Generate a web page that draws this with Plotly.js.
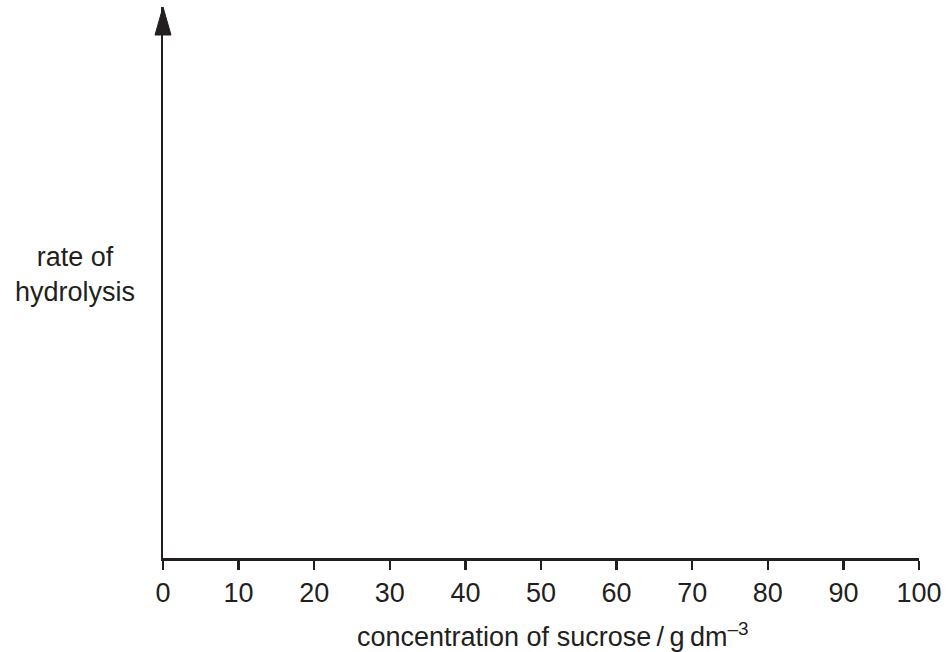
<!DOCTYPE html>
<html>
<head>
<meta charset="utf-8">
<script src="https://cdn.plot.ly/plotly-3.0.1.min.js"></script>
<style>html,body{margin:0;padding:0;background:#fff;}#chart{width:948px;height:652px;}</style>
</head>
<body>
<div id="chart"></div>
<script>
var xTickValues = [0, 10, 20, 30, 40, 50, 60, 70, 80, 90, 100];
var xTickLabels = ["0", "10", "20", "30", "40", "50", "60", "70", "80", "90", "100"];
var xRange = [0, 100];
var yRange = [0, 1];
var xTitle = "concentration of sucrose\u2009/\u2009g\u2009dm<sup>–3</sup>";
var yTitle = "rate of<br>hydrolysis";

var ink = "#231f20";
var font = "Liberation Sans, Arial, sans-serif";
var fs = 27;

var data = [{x: [], y: [], type: "scatter", mode: "lines", hoverinfo: "skip", showlegend: false}];

var layout = {
  width: 948, height: 652,
  margin: {l: 163, r: 29, t: 7, b: 94},
  paper_bgcolor: "#fff", plot_bgcolor: "#fff",
  showlegend: false,
  font: {family: font, color: ink, size: fs},
  xaxis: {
    range: xRange, fixedrange: true,
    tickvals: xTickValues, ticktext: xTickLabels,
    ticks: "outside", ticklen: 9, tickwidth: 2.5, tickcolor: ink,
    showline: true, linewidth: 2.5, linecolor: ink,
    showgrid: false, zeroline: false,
    tickfont: {family: font, size: fs, color: ink}
  },
  yaxis: {
    range: yRange, fixedrange: true,
    showticklabels: false, ticks: "",
    showline: true, linewidth: 2.5, linecolor: ink,
    showgrid: false, zeroline: false
  },
  shapes: [{
    type: "path", xref: "paper", yref: "paper",
    xsizemode: "pixel", ysizemode: "pixel",
    xanchor: 0, yanchor: 1,
    path: "M -8 -28 L 0 0 L 8 -28 Z",
    fillcolor: ink, line: {color: ink, width: 1}
  }],
  annotations: [
    {text: yTitle, xref: "paper", yref: "paper", x: -0.1164, y: 0.515,
     xanchor: "center", yanchor: "middle", showarrow: false, align: "center",
     font: {family: font, size: fs, color: ink}},
    {text: xTitle, xref: "paper", yref: "paper", x: 0.5146, y: -0.1397,
     xanchor: "center", yanchor: "middle", showarrow: false,
     font: {family: font, size: fs, color: ink}}
  ]
};

Plotly.newPlot("chart", data, layout, {displayModeBar: false, staticPlot: true});
</script>
</body>
</html>
